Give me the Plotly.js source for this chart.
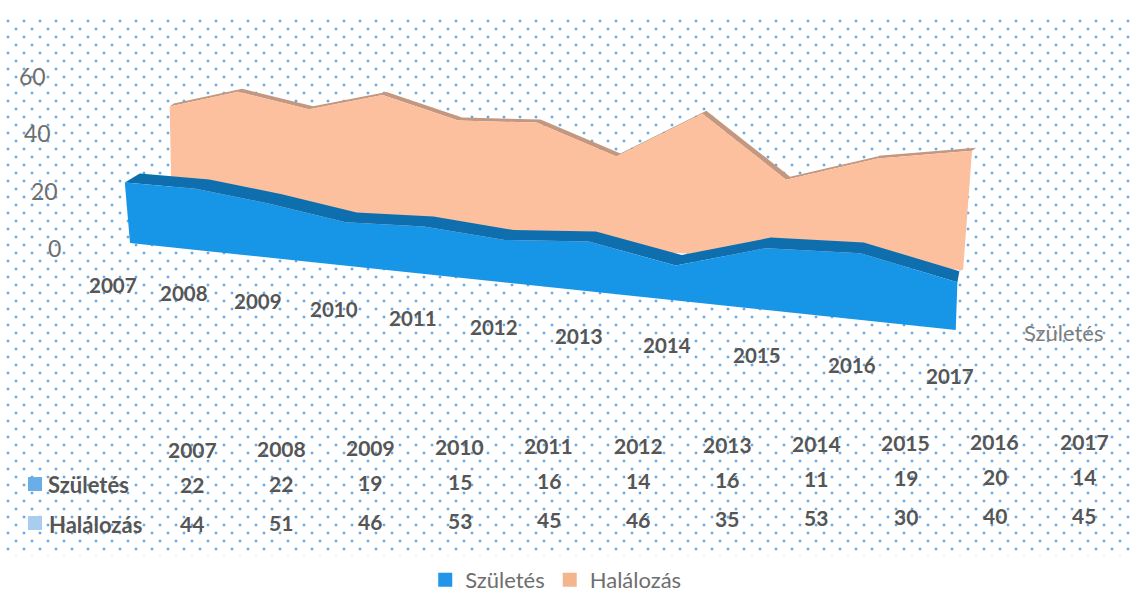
<!DOCTYPE html>
<html>
<head>
<meta charset="utf-8">
<script src="https://cdn.plot.ly/plotly-3.0.1.min.js"></script>
<style>
html,body{margin:0;padding:0;background:#fff;overflow:hidden}
#dots{position:absolute;left:0;top:0;width:1134px;height:593px;clip-path:inset(16px 0 37px 5px);
background-image:radial-gradient(circle at 8px 5px,#62abea 1px,rgba(98,171,234,0) 1.8px),radial-gradient(circle at 8px 5px,#62abea 1px,rgba(98,171,234,0) 1.8px);
background-size:16px 16px;background-position:0 0,8px 8px}
#chart{position:absolute;left:0;top:0;width:1134px;height:593px}
</style>
</head>
<body>
<div id="dots"></div>
<div id="chart"></div>
<script>
const years = [2007,2008,2009,2010,2011,2012,2013,2014,2015,2016,2017];
const szuletes = [22,22,19,15,16,14,16,11,19,20,14];
const halalozas = [44,51,46,53,45,46,35,53,30,40,45];
const valueTicks = [0,20,40,60];
const seriesNames = ['Születés','Halálozás'];

const BLUE='#1795e6', BLUE_TOP='#0f6fae', PEACH='#fcc09f', PEACH_TOP='#c4977f';
const FONT='Lato, Carlito, sans-serif', DARK='#565656', GREY='#6e6e6e';

// Oblique perspective of the 3-D area chart: (year index, value, depth) -> plot coordinates
const frontRow={x0:130,xk:66.9,y0:243,yk:3.29,c:-0.0164,s:2.75,grow:1.2,lean:[-0.086,0.035],depth:[15,-9,2,-11]};
const backRow ={x0:172,xk:63.7,y0:223,yk:0.38,c:-0.016 ,s:2.65,grow:0,lean:[-0.02,0.075],depth:[4,-3,4,-3]};
function project(row,i,v,d){
  const t=i/10, w=1+row.c*i, h=v*row.s/Math.pow(w,row.grow);
  const lean=row.lean[0]+(row.lean[1]-row.lean[0])*t;
  const dx=row.depth[0]+(row.depth[2]-row.depth[0])*t, dy=row.depth[1]+(row.depth[3]-row.depth[1])*t;
  return [(row.x0+row.xk*i)/w+lean*h+dx*d,(row.y0+row.yk*i)/w-h+dy*d];
}
function poly(pts){return {x:pts.map(p=>p[0]),y:pts.map(p=>p[1])};}
function area(row,vals,name,color,topColor){
  const idx=vals.map((_,i)=>i);
  const top=idx.map(i=>project(row,i,vals[i],0));
  const back=idx.map(i=>project(row,i,vals[i],1)).reverse();
  const base=idx.map(i=>project(row,i,0,0)).reverse();
  const common={type:'scatter',mode:'lines',fill:'toself',line:{width:0},showlegend:false,name:name};
  return [
    Object.assign({},common,poly(top.concat(back)),{fillcolor:topColor,hoverinfo:'skip'}),
    Object.assign({},common,poly(top.concat(base)),{fillcolor:color,hoverinfo:'name'})
  ];
}
const traces=[].concat(
  area(backRow,halalozas,seriesNames[1],PEACH,PEACH_TOP),
  area(frontRow,szuletes,seriesNames[0],BLUE,BLUE_TOP)
);
// legend entries
[[seriesNames[0],'#2196e8'],[seriesNames[1],'#f3b48e']].forEach(([n,c])=>{
  traces.push({type:'scatter',mode:'markers',x:[null],y:[null],name:n,marker:{symbol:'square',size:14,color:c},showlegend:true});
});
// table key swatches
const colX=i=>192+89.2*i, rowY=(r,i)=>[449,484,523][r]-0.8*i;
traces.push({type:'scatter',mode:'markers',x:[35,35],y:[rowY(1,0),rowY(2,0)],showlegend:false,hoverinfo:'skip',
  marker:{symbol:'square',size:14,color:['#6aaee8','#a9cdee']}});

const ann=[];
function label(x,y,text,size,color,bold){
  ann.push({xref:'x',yref:'y',x:x,y:y,text:bold?'<b>'+text+'</b>':text,showarrow:false,
    font:{family:FONT,size:size,color:color}});
}
valueTicks.forEach((v,k)=>label([54,44,37,32][k],248-v*2.87,String(v),23,GREY,false));
years.forEach((yr,i)=>{
  const p=project(frontRow,i,0,0);
  label(p[0]-17+1.1*i,p[1]+42+0.4*i,String(yr),20.5,DARK,true);
});
label(1063,332,seriesNames[0],22,'#7d7d7d',false);
years.forEach((yr,i)=>{
  label(colX(i),rowY(0,i),String(yr),21,DARK,true);
  label(colX(i),rowY(1,i),String(szuletes[i]),21,DARK,true);
  label(colX(i),rowY(2,i),String(halalozas[i]),21,DARK,true);
});
label(88,484,seriesNames[0],22,DARK,true);
label(95,524,seriesNames[1],22,DARK,true);

Plotly.newPlot('chart',traces,{
  width:1134,height:593,margin:{l:0,r:0,t:0,b:0,autoexpand:false},
  paper_bgcolor:'rgba(0,0,0,0)',plot_bgcolor:'rgba(0,0,0,0)',
  xaxis:{range:[0,1134],visible:false,fixedrange:true},
  yaxis:{range:[593,0],visible:false,fixedrange:true},
  annotations:ann,hovermode:'closest',
  legend:{orientation:'h',x:0.375,xanchor:'left',y:0.022,yanchor:'middle',font:{family:FONT,size:22,color:GREY},bgcolor:'rgba(0,0,0,0)'}
},{displayModeBar:false});
</script>
</body>
</html>
